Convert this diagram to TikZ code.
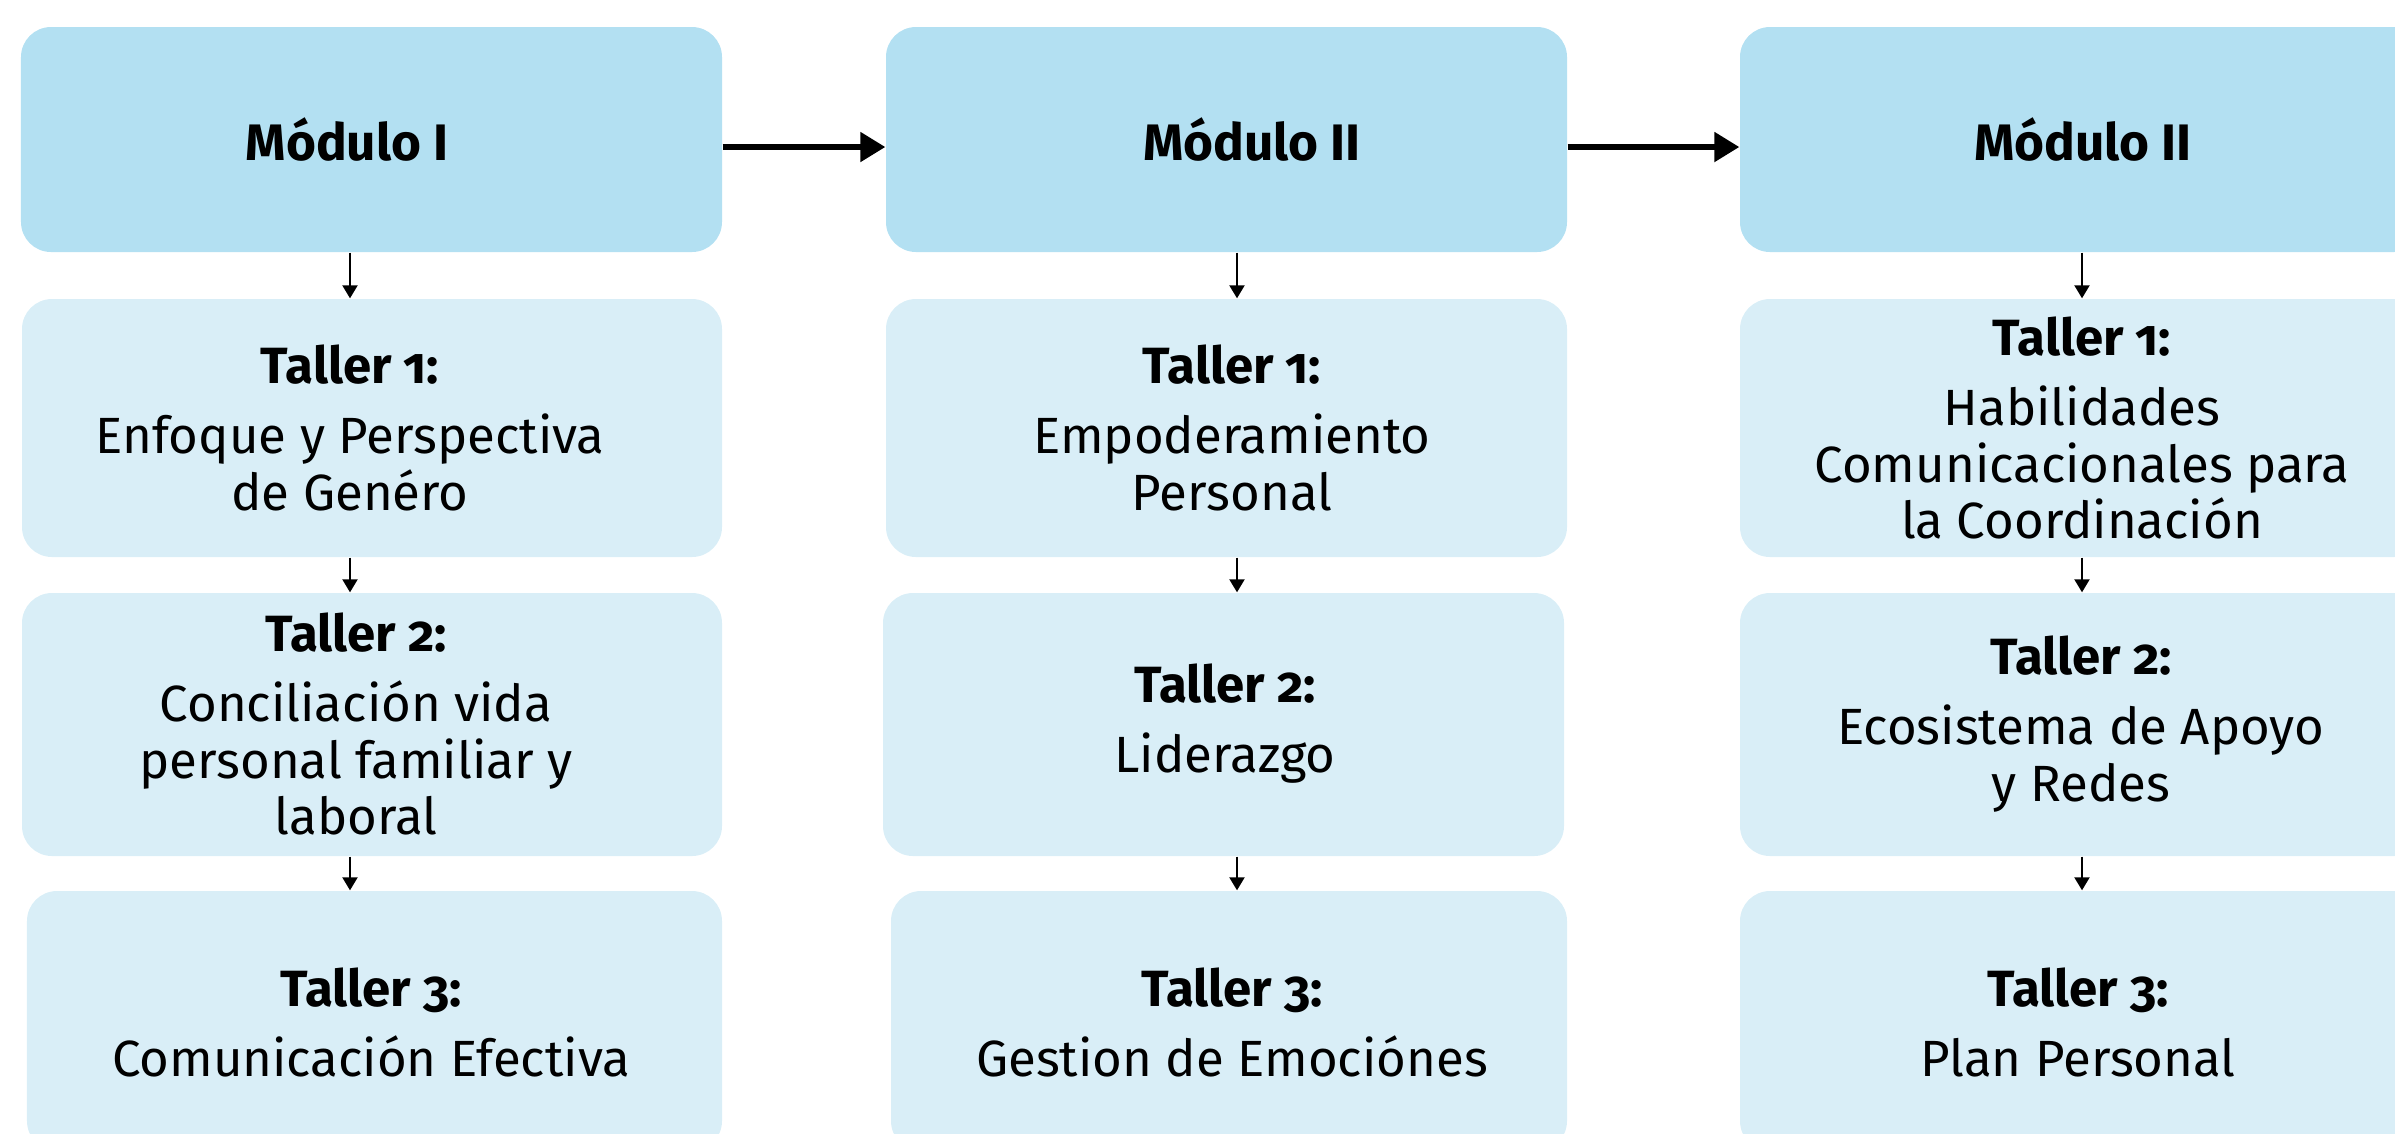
\documentclass[tikz,border=0pt]{standalone}
\usepackage{fontspec}
\setmainfont{Fira Sans}[Numbers=OldStyle]
\usetikzlibrary{arrows.meta}

\definecolor{modblue}{RGB}{179,224,242}
\definecolor{tallblue}{RGB}{217,238,247}

\begin{document}
\begin{tikzpicture}[
    modbox/.style={fill=modblue, rounded corners=0.3cm, minimum height=2.25cm, inner sep=0pt},
    tallbox/.style={fill=tallblue, rounded corners=0.3cm, inner sep=0pt},
    modtxt/.style={font=\fontsize{14.6}{18}\selectfont\bfseries, inner sep=0pt},
    talltxt/.style={font=\fontsize{14.5}{16.2}\selectfont, align=center, inner sep=0pt},
    hline/.style={line width=1.5pt, -{Triangle[length=2.5mm,width=2.9mm]}},
    vline/.style={line width=0.6pt, -{Triangle[length=1.3mm,width=1.5mm]}}
]
    \useasboundingbox (0,0) rectangle (23.95,-11.33);

    % column lines for the small arrows
    \coordinate (c1) at (3.50,0);
    \coordinate (c2) at (12.37,0);
    \coordinate (c3) at (20.82,0);

    % modules
    \node[modbox, minimum width=7.01cm] (m1) at (3.715,-1.395) {};
    \node[modbox, minimum width=6.81cm] (m2) at (12.265,-1.395) {};
    \node[modbox, minimum width=6.84cm] (m3) at (20.82,-1.395) {};

    \node[modtxt] (m1t) at (3.47,-1.39) {Módulo I};
    \node[modtxt] (m2t) at (12.52,-1.39) {Módulo II};
    \node[modtxt] (m3t) at (20.83,-1.39) {Módulo II};

    % talleres, column 1
    \node[tallbox, minimum width=7.00cm, minimum height=2.58cm] (t11) at (3.72,-4.28) {};
    \node[tallbox, minimum width=7.00cm, minimum height=2.63cm] (t12) at (3.72,-7.245) {};
    \node[tallbox, minimum width=6.95cm, minimum height=2.60cm] (t13) at (3.745,-10.21) {};

    % talleres, column 2
    \node[tallbox, minimum width=6.81cm, minimum height=2.58cm] (t21) at (12.265,-4.28) {};
    \node[tallbox, minimum width=6.81cm, minimum height=2.63cm] (t22) at (12.235,-7.245) {};
    \node[tallbox, minimum width=6.76cm, minimum height=2.60cm] (t23) at (12.29,-10.21) {};

    % talleres, column 3
    \node[tallbox, minimum width=6.84cm, minimum height=2.58cm] (t31) at (20.82,-4.28) {};
    \node[tallbox, minimum width=6.84cm, minimum height=2.63cm] (t32) at (20.82,-7.245) {};
    \node[tallbox, minimum width=6.84cm, minimum height=2.60cm] (t33) at (20.82,-10.21) {};

    \node[talltxt] (t11t) at (3.50,-4.28) {{\bfseries Taller 1:}\\[3.7pt]Enfoque y Perspectiva\\de Genéro};
    \node[talltxt] (t12t) at (3.56,-7.24) {{\bfseries Taller 2:}\\[3.7pt]Conciliación vida\\personal familiar y\\laboral};
    \node[talltxt] (t13t) at (3.71,-10.225) {{\bfseries Taller 3:}\\[3.7pt]Comunicación Efectiva};

    \node[talltxt] (t21t) at (12.32,-4.28) {{\bfseries Taller 1:}\\[3.7pt]Empoderamiento\\Personal};
    \node[talltxt] (t22t) at (12.25,-7.24) {{\bfseries Taller 2:}\\[3.7pt]Liderazgo};
    \node[talltxt] (t23t) at (12.32,-10.225) {{\bfseries Taller 3:}\\[3.7pt]Gestion de Emociónes};

    \node[talltxt] (t31t) at (20.82,-4.28) {{\bfseries Taller 1:}\\[3.7pt]Habilidades\\Comunicacionales para\\la Coordinación};
    \node[talltxt] (t32t) at (20.81,-7.24) {{\bfseries Taller 2:}\\[3.7pt]Ecosistema de Apoyo\\y Redes};
    \node[talltxt] (t33t) at (20.78,-10.225) {{\bfseries Taller 3:}\\[3.7pt]Plan Personal};

    % arrows between modules
    \draw[hline] ([yshift=-0.075cm]m1.east) -- ([yshift=-0.075cm]m2.west);
    \draw[hline] ([yshift=-0.075cm]m2.east) -- ([yshift=-0.075cm]m3.west);

    % arrows down each column
    \draw[vline] (m1.south -| c1) -- (t11.north -| c1);
    \draw[vline] (t11.south -| c1) -- (t12.north -| c1);
    \draw[vline] (t12.south -| c1) -- (t13.north -| c1);

    \draw[vline] (m2.south -| c2) -- (t21.north -| c2);
    \draw[vline] (t21.south -| c2) -- (t22.north -| c2);
    \draw[vline] (t22.south -| c2) -- (t23.north -| c2);

    \draw[vline] (m3.south -| c3) -- (t31.north -| c3);
    \draw[vline] (t31.south -| c3) -- (t32.north -| c3);
    \draw[vline] (t32.south -| c3) -- (t33.north -| c3);
\end{tikzpicture}
\end{document}
